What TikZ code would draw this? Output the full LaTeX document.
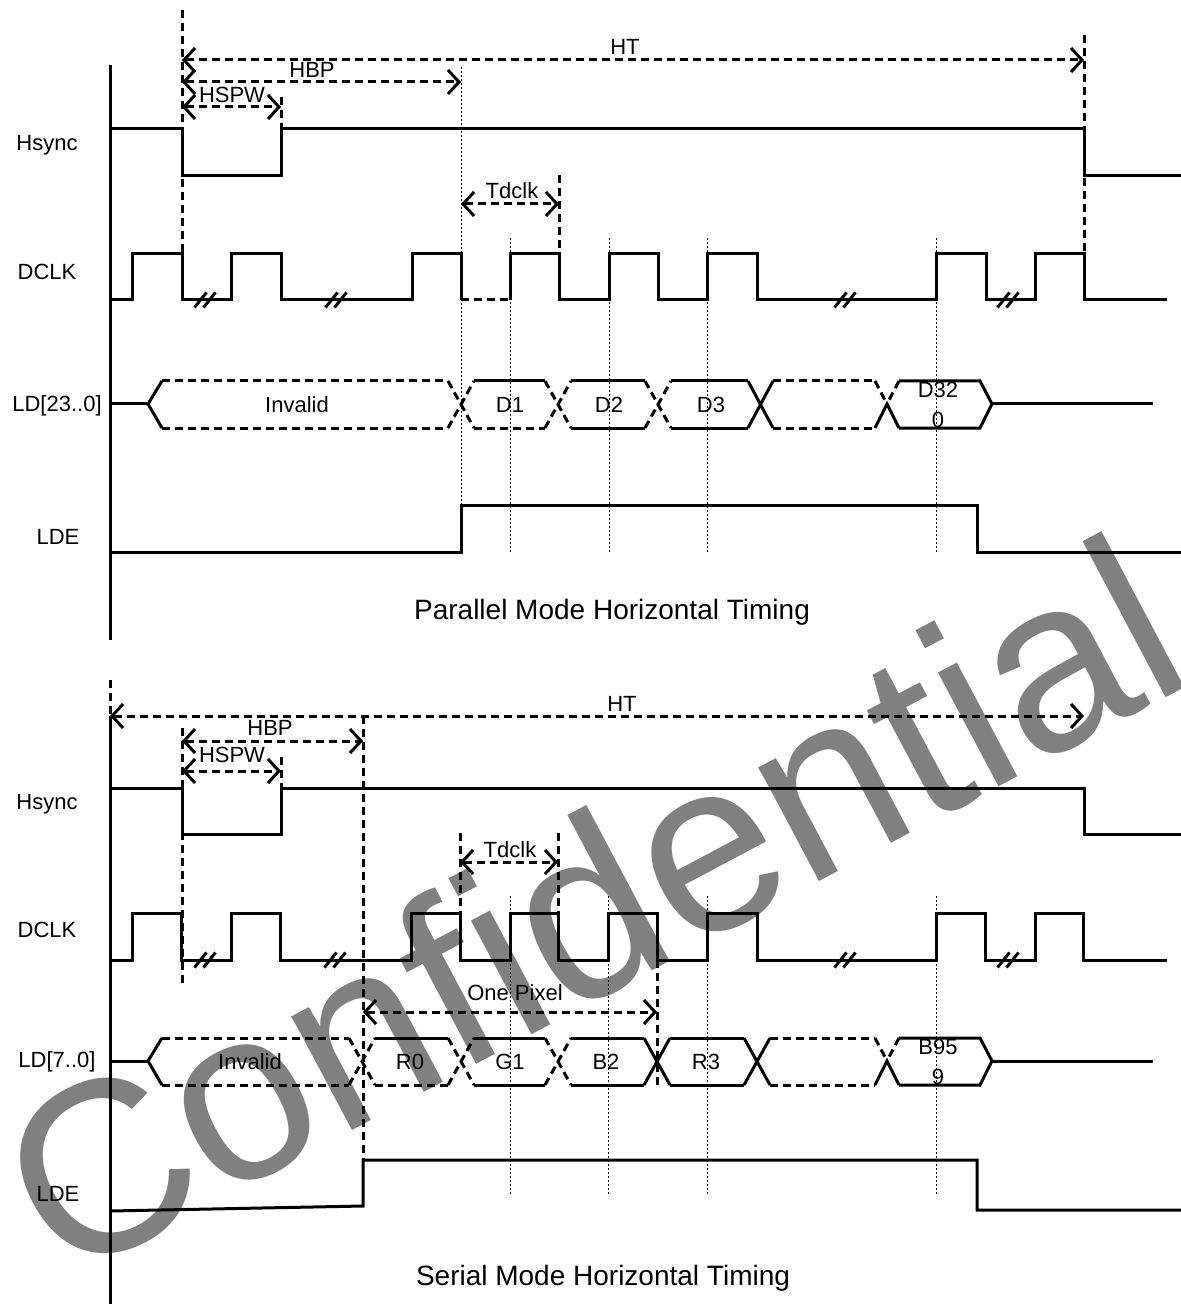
\documentclass[tikz,border=0pt]{standalone}
\usepackage{fontspec}
\setmainfont{Liberation Sans}
\usetikzlibrary{arrows.meta}
\definecolor{wmgray}{RGB}{128,128,128}
\begin{document}
\begin{tikzpicture}[x=0.5pt,y=-0.5pt,
  sig/.style={line width=1.5pt},
  dsh/.style={line width=1.5pt, dash pattern=on 4pt off 2.5pt},
  dotln/.style={line width=0.5pt, dash pattern=on 1pt off 1pt},
  dimarrow/.style={dsh, {Straight Barb[length=5.5pt,width=12pt]}-{Straight Barb[length=5.5pt,width=12pt]}},
  lbl/.style={font=\fontsize{11}{15}\selectfont, inner sep=0pt, align=center},
  ttl/.style={font=\fontsize{14}{16}\selectfont, inner sep=0pt},
  brk/.style={line width=1.5pt},
]
\useasboundingbox (0,0) rectangle (1181,1304);

% watermark
\node[rotate=28, text=wmgray, font=\fontsize{122}{122}\selectfont, inner sep=0pt] (wm) at (590,905) {Confidential};

% ================= PARALLEL =================
\draw[sig] (110,65) -- (110,640);
\node[lbl] (pHs) at (47,145) {Hsync};
\node[lbl] (pCk) at (47,272) {DCLK};
\node[lbl] (pLd) at (57,406) {LD[23..0]};
\node[lbl] (pDe) at (58,537) {LDE};
\node[ttl] (pT) at (612,612) {Parallel Mode Horizontal Timing};

% Hsync
\draw[sig] (110,129) -- (182,129) -- (182,176) -- (281,176) -- (281,129) -- (1084,129) -- (1084,176) -- (1181,176);
% DCLK
\draw[sig] (110,300) -- (132,300) -- (132,254) -- (182,254) -- (182,300) -- (231,300) -- (231,254) -- (281,254) -- (281,300) -- (412,300) -- (412,254) -- (461,254) -- (461,300);
\draw[dsh] (461,300) -- (510,300);
\draw[sig] (510,300) -- (510,254) -- (559,254) -- (559,300) -- (609,300) -- (609,254) -- (658,254) -- (658,300) -- (707,300) -- (707,254) -- (757,254) -- (757,300) -- (936,300) -- (936,254) -- (986,254) -- (986,300) -- (1035,300) -- (1035,254) -- (1084,254) -- (1084,300) -- (1167,300);
\foreach \bx in {205,336,845,1008}{
  \draw[brk] (\bx-10.5,307.5) -- (\bx+1.5,292.5);
  \draw[brk] (\bx-1.5,307.5) -- (\bx+10.5,292.5);
}
% LD bus
\draw[sig] (110,404) -- (148,404);
\draw[sig] (162,381) -- (148,404) -- (162,428);
\draw[dsh] (162,381) -- (448,381) (162,428) -- (448,428);
\draw[dsh] (448,381) -- (474,428) (448,428) -- (474,381);
\draw[sig] (474,381) -- (545,381);
\draw[dsh] (474,428) -- (545,428);
\draw[dsh] (545,381) -- (571,428) (545,428) -- (571,381);
\draw[sig] (571,381) -- (645,381) (571,428) -- (645,428);
\draw[dsh] (645,381) -- (671,428) (645,428) -- (671,381);
\draw[sig] (671,381) -- (748,381) (671,428) -- (748,428);
\draw[sig] (748,381) -- (773,428) (748,428) -- (773,381);
\draw[dsh] (773,381) -- (875,381) (773,428) -- (875,428);
\draw[dsh] (875,381) -- (887,404) (899,381) -- (887,404);
\draw[sig] (875,428) -- (887,404) -- (899,428);
\draw[sig] (899,381) -- (980,381) -- (992,404) -- (980,428) -- (899,428);
\draw[sig] (992,404) -- (1153,404);
\node[lbl] (pInv) at (297,405) {Invalid};
\node[lbl] (pD1) at (510,405) {D1};
\node[lbl] (pD2) at (609,405) {D2};
\node[lbl] (pD3) at (711,405) {D3};
\node[lbl] (pD320) at (938,405) {D32\\0};
% LDE
\draw[sig] (110,552) -- (461,552) -- (461,505) -- (977,505) -- (977,552) -- (1181,552);

% dimension lines
\draw[dsh] (182,10) -- (182,254);
\draw[dsh] (1084,35) -- (1084,254);
\draw[dsh] (281,97) -- (281,129);
\draw[dsh] (559,175) -- (559,254);
\draw[dotln] (461,67) -- (461,505);
\foreach \vx in {510,609,707,936}{ \draw[dotln] (\vx,238) -- (\vx,552); }
\coordinate (pHTa) at (182,60);  \coordinate (pHTb) at (1084,60);
\coordinate (pHBa) at (182,82);  \coordinate (pHBb) at (461,82);
\coordinate (pSWa) at (182,107); \coordinate (pSWb) at (281,107);
\coordinate (pTCa) at (461,204); \coordinate (pTCb) at (559,204);
\draw[dimarrow] (pHTa) -- (pHTb);
\draw[dimarrow] (pHBa) -- (pHBb);
\draw[dimarrow] (pSWa) -- (pSWb);
\draw[dimarrow] (pTCa) -- (pTCb);
\node[lbl] (pHT) at (625,47) {HT};
\node[lbl] (pHBP) at (312,70) {HBP};
\node[lbl] (pHSPW) at (232,95) {HSPW};
\node[lbl] (pTd) at (512,191) {Tdclk};

% ================= SERIAL =================
\draw[dsh] (110,680) -- (110,716);
\draw[sig] (110,716) -- (110,1304);
\node[lbl] (sHs) at (47,804) {Hsync};
\node[lbl] (sCk) at (47,930) {DCLK};
\node[lbl] (sLd) at (57,1062) {LD[7..0]};
\node[lbl] (sDe) at (58,1194) {LDE};
\node[ttl] (sT) at (603,1278) {Serial Mode Horizontal Timing};

% Hsync
\draw[sig] (110,788) -- (182,788) -- (182,834) -- (281,834) -- (281,788) -- (1084,788) -- (1084,834) -- (1181,834);
% DCLK
\draw[sig] (110,960) -- (132,960) -- (132,913) -- (181,913) -- (181,960) -- (231,960) -- (231,913) -- (280,913) -- (280,960) -- (411,960) -- (411,913) -- (460,913) -- (460,960) -- (510,960) -- (510,913) -- (558,913) -- (558,960) -- (608,960) -- (608,913) -- (657,913) -- (657,960) -- (707,960) -- (707,913) -- (757,913) -- (757,960) -- (936,960) -- (936,913) -- (985,913) -- (985,960) -- (1035,960) -- (1035,913) -- (1083,913) -- (1083,960) -- (1167,960);
\foreach \bx in {205,335,845,1008}{
  \draw[brk] (\bx-10.5,967.5) -- (\bx+1.5,952.5);
  \draw[brk] (\bx-1.5,967.5) -- (\bx+10.5,952.5);
}
% LD bus
\draw[sig] (110,1061) -- (148,1061);
\draw[sig] (162,1038) -- (148,1061) -- (162,1085);
\draw[dsh] (162,1038) -- (349,1038) (162,1085) -- (349,1085);
\draw[dsh] (349,1038) -- (375,1085) (349,1085) -- (375,1038);
\draw[sig] (375,1038) -- (448,1038);
\draw[dsh] (375,1085) -- (448,1085);
\draw[dsh] (448,1038) -- (474,1085) (448,1085) -- (474,1038);
\draw[sig] (474,1038) -- (545,1038) (474,1085) -- (545,1085);
\draw[dsh] (545,1038) -- (571,1085) (545,1085) -- (571,1038);
\draw[sig] (571,1038) -- (644,1038) (571,1085) -- (644,1085);
\draw[sig] (644,1038) -- (670,1085) (644,1085) -- (670,1038);
\draw[sig] (670,1038) -- (744,1038) (670,1085) -- (744,1085);
\draw[sig] (744,1038) -- (770,1085) (744,1085) -- (770,1038);
\draw[dsh] (770,1038) -- (875,1038) (770,1085) -- (875,1085);
\draw[dsh] (875,1038) -- (887,1061) (899,1038) -- (887,1061);
\draw[sig] (875,1085) -- (887,1061) -- (899,1085);
\draw[sig] (899,1038) -- (980,1038) -- (992,1061) -- (980,1085) -- (899,1085);
\draw[sig] (992,1061) -- (1153,1061);
\node[lbl] (sInv) at (250,1062) {Invalid};
\node[lbl] (sR0) at (410,1062) {R0};
\node[lbl] (sG1) at (510,1062) {G1};
\node[lbl] (sB2) at (606,1062) {B2};
\node[lbl] (sR3) at (706,1062) {R3};
\node[lbl] (sB959) at (938,1062) {B95\\9};
% LDE
\draw[sig] (110,1211) -- (363,1206) -- (363,1160) -- (977,1160) -- (977,1210) -- (1181,1210);

% dimension lines
\draw[dsh] (363,716) -- (363,1160);
\draw[dsh] (182,728) -- (182,983);
\draw[dsh] (281,757) -- (281,788);
\draw[dsh] (460,833) -- (460,913);
\draw[dsh] (558,833) -- (558,913);
\draw[dsh] (657,960) -- (657,1085);
\foreach \vx in {510,608,707,936}{ \draw[dotln] (\vx,896) -- (\vx,1195); }
\coordinate (sHTa) at (110,716);  \coordinate (sHTb) at (1084,716);
\coordinate (sHBa) at (182,741);  \coordinate (sHBb) at (363,741);
\coordinate (sSWa) at (182,771);  \coordinate (sSWb) at (281,771);
\coordinate (sTCa) at (460,862);  \coordinate (sTCb) at (558,862);
\coordinate (sOPa) at (363,1012); \coordinate (sOPb) at (657,1012);
\draw[dimarrow] (sHTa) -- (sHTb);
\draw[dimarrow] (sHBa) -- (sHBb);
\draw[dimarrow] (sSWa) -- (sSWb);
\draw[dimarrow] (sTCa) -- (sTCb);
\draw[dimarrow] (sOPa) -- (sOPb);
\node[lbl] (sHT) at (622,704) {HT};
\node[lbl] (sHBP) at (270,728) {HBP};
\node[lbl] (sHSPW) at (232,755) {HSPW};
\node[lbl] (sTd) at (510,850) {Tdclk};
\node[lbl] (sOP) at (515,993) {One Pixel};
\end{tikzpicture}
\end{document}
